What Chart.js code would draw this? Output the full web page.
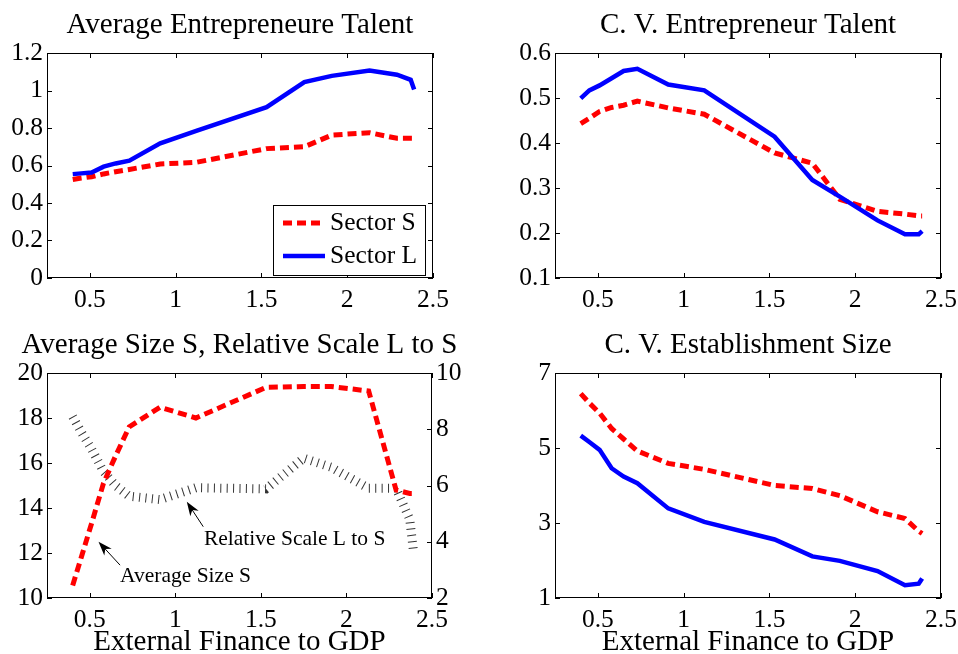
<!DOCTYPE html>
<html>
<head>
<meta charset="utf-8">
<script src="https://cdn.jsdelivr.net/npm/chart.js@4.4.0/dist/chart.umd.min.js"></script>
<style>
  html, body { margin: 0; padding: 0; background: #fff; overflow: hidden; }
  .panel { position: absolute; }
</style>
</head>
<body>
<div class="panel" style="left:0;top:0;width:480px;height:320px"><canvas id="talentChart"></canvas></div>
<div class="panel" style="left:479px;top:0;width:538px;height:320px"><canvas id="cvTalentChart"></canvas></div>
<div class="panel" style="left:0;top:320px;width:479px;height:334px"><canvas id="sizeChart"></canvas></div>
<div class="panel" style="left:479px;top:320px;width:538px;height:334px"><canvas id="cvSizeChart"></canvas></div>
<script>
// abscisse commune : financement externe / PIB
const financeGDP = [0.40, 0.45, 0.51, 0.58, 0.65, 0.73, 0.91, 1.12, 1.53, 1.75, 1.91, 2.13, 2.29, 2.37, 2.39];
const xTicks = [0.5, 1, 1.5, 2, 2.5];

// Average Entrepreneure Talent
const talentS = [0.525, 0.533, 0.54, 0.555, 0.567, 0.579, 0.608, 0.617, 0.69, 0.70, 0.762, 0.775, 0.745, 0.745, 0.745];
const talentL = [0.554, 0.558, 0.563, 0.594, 0.611, 0.626, 0.718, 0.785, 0.911, 1.045, 1.078, 1.107, 1.084, 1.057, 1.005];
const talentTicks = [0, 0.2, 0.4, 0.6, 0.8, 1, 1.2];

// C. V. Entrepreneur Talent
const cvTalentS = [0.443, 0.455, 0.47, 0.479, 0.484, 0.493, 0.478, 0.464, 0.378, 0.355, 0.275, 0.248, 0.242, 0.238, 0.238];
const cvTalentL = [0.499, 0.517, 0.528, 0.544, 0.56, 0.565, 0.530, 0.517, 0.414, 0.318, 0.281, 0.228, 0.197, 0.197, 0.204];
const cvTalentTicks = [0.1, 0.2, 0.3, 0.4, 0.5, 0.6];

// Average Size S (gauche), Relative Scale L to S (droite)
const avgSizeS = [10.56, 11.8, 13.3, 15.1, 16.3, 17.6, 18.48, 18.0, 19.36, 19.4, 19.4, 19.2, 14.8, 14.65, 14.65];
const relScaleLS = [8.45, 7.9, 7.3, 6.5, 6.0, 5.62, 5.5, 5.92, 5.88, 6.97, 6.65, 5.9, 5.9, 4.8, 3.75];
const sizeTicks = [10, 12, 14, 16, 18, 20];
const scaleTicks = [2, 4, 6, 8, 10];

// C. V. Establishment Size
const cvSizeS = [6.45, 6.2, 5.93, 5.52, 5.24, 4.92, 4.59, 4.43, 4.0, 3.92, 3.73, 3.30, 3.12, 2.78, 2.72];
const cvSizeL = [5.33, 5.16, 4.95, 4.46, 4.24, 4.06, 3.39, 3.03, 2.56, 2.11, 1.99, 1.72, 1.34, 1.38, 1.52];
const cvSizeTicks = [1, 3, 5, 7];

const serif = "'Liberation Serif', 'Times New Roman', serif";
Chart.defaults.font.family = serif;
Chart.defaults.color = '#000';

const tickFont = { size: 25.5, family: serif };
const pts = ys => financeGDP.map((x, i) => ({ x: x, y: ys[i] }));

function redLine(ys) {
    return { label: 'Sector S', data: pts(ys), borderColor: '#ff0000', borderWidth: 5, borderDash: [9, 5], pointRadius: 0, tension: 0, fill: false, order: 1 };
}
function blueLine(ys) {
    return { label: 'Sector L', data: pts(ys), borderColor: '#0000ff', borderWidth: 4.5, pointRadius: 0, tension: 0, fill: false, order: 0 };
}

function xScale(withTitle) {
    return {
        type: 'linear', min: 0.25, max: 2.5,
        afterBuildTicks: s => { s.ticks = xTicks.map(v => ({ value: v })); },
        afterFit: s => { s.height = withTitle ? 56 : 42; },
        grid: { display: false, drawTicks: false },
        border: { display: false },
        ticks: { font: tickFont, color: '#000', padding: 7, maxRotation: 0, autoSkip: false, callback: v => String(v) },
        title: withTitle ? {
            display: true, text: 'External Finance to GDP', color: '#000',
            font: { size: 29, lineHeight: 1, family: serif }, padding: { top: 0, bottom: -3 }
        } : { display: false }
    };
}

function yScale(min, max, ticks, width, position) {
    return {
        type: 'linear', position: position || 'left', min: min, max: max,
        afterBuildTicks: s => { s.ticks = ticks.map(v => ({ value: v })); },
        afterFit: s => { s.width = width; },
        grid: { display: false, drawTicks: false },
        border: { display: false },
        ticks: { font: tickFont, color: '#000', padding: 4, autoSkip: false, callback: v => String(v) }
    };
}

// axe vide à droite pour que le titre soit centré sur la zone du graphique
function spacer(width) {
    return {
        type: 'linear', position: 'right',
        afterFit: s => { s.width = width; },
        grid: { display: false, drawTicks: false },
        border: { display: false },
        ticks: { display: false }
    };
}

function titleOpt(text) {
    return { display: true, text: text, color: '#000', font: { size: 29, lineHeight: 1, weight: 'normal', family: serif }, padding: { top: 11, bottom: 13 } };
}

// cadre façon MATLAB avec graduations vers l'intérieur
const boxPlugin = {
    id: 'matlabBox',
    afterDraw(chart) {
        const { ctx, chartArea: a, scales } = chart;
        ctx.save();
        ctx.strokeStyle = '#000';
        ctx.lineWidth = 1;
        ctx.strokeRect(a.left + 0.5, a.top + 0.5, a.right - a.left - 1, a.bottom - a.top - 1);
        ctx.beginPath();
        scales.x.ticks.forEach(t => {
            const px = Math.round(scales.x.getPixelForValue(t.value)) + 0.5;
            ctx.moveTo(px, a.bottom); ctx.lineTo(px, a.bottom - 5);
            ctx.moveTo(px, a.top); ctx.lineTo(px, a.top + 5);
        });
        const yl = scales.y, yr = scales.y1 || scales.y;
        yl.ticks.forEach(t => {
            const py = Math.round(yl.getPixelForValue(t.value)) + 0.5;
            ctx.moveTo(a.left, py); ctx.lineTo(a.left + 5, py);
        });
        yr.ticks.forEach(t => {
            const py = Math.round(yr.getPixelForValue(t.value)) + 0.5;
            ctx.moveTo(a.right, py); ctx.lineTo(a.right - 5, py);
        });
        ctx.stroke();
        ctx.restore();
    }
};

// légende dans le coin du premier graphique
const legendBox = { left: 273, top: 205, right: 425, bottom: 275 };
const legendPlugin = {
    id: 'insideLegend',
    afterDraw(chart) {
        const ctx = chart.ctx;
        const b = legendBox;
        ctx.save();
        ctx.fillStyle = '#fff';
        ctx.fillRect(b.left, b.top, b.right - b.left, b.bottom - b.top);
        ctx.strokeStyle = '#000';
        ctx.lineWidth = 1;
        ctx.strokeRect(b.left + 0.5, b.top + 0.5, b.right - b.left, b.bottom - b.top);
        chart.data.datasets.slice().sort((p, q) => q.order - p.order).forEach((ds, i) => {
            const y = b.top + 18 + i * 33;
            ctx.beginPath();
            ctx.strokeStyle = ds.borderColor;
            ctx.lineWidth = ds.borderWidth;
            ctx.setLineDash(ds.borderDash || []);
            ctx.moveTo(b.left + 10, y);
            ctx.lineTo(b.left + 52, y);
            ctx.stroke();
            ctx.setLineDash([]);
            ctx.fillStyle = '#000';
            ctx.font = '25.5px ' + serif;
            ctx.textBaseline = 'middle';
            ctx.fillText(ds.label, b.left + 57, y);
        });
        ctx.restore();
    }
};

// flèches et textes du graphique en bas à gauche
const notes = [
    { text: 'Relative Scale L to S', at: [1.167, 12.6], tail: [1.163, 13.17], tip: [1.067, 14.28] },
    { text: 'Average Size S', at: [0.677, 10.95], tail: [0.677, 11.46], tip: [0.551, 12.5] }
];
const notesPlugin = {
    id: 'arrowNotes',
    afterDatasetsDraw(chart) {
        const { ctx, scales } = chart;
        const px = p => [scales.x.getPixelForValue(p[0]), scales.y.getPixelForValue(p[1])];
        ctx.save();
        ctx.fillStyle = '#000';
        ctx.strokeStyle = '#000';
        ctx.lineWidth = 1;
        ctx.font = '21.5px ' + serif;
        ctx.textBaseline = 'middle';
        notes.forEach(n => {
            const [tx, ty] = px(n.at);
            ctx.fillText(n.text, tx, ty);
            const [x0, y0] = px(n.tail);
            const [x1, y1] = px(n.tip);
            const ang = Math.atan2(y1 - y0, x1 - x0);
            ctx.beginPath();
            ctx.moveTo(x0, y0);
            ctx.lineTo(x1 - 8 * Math.cos(ang), y1 - 8 * Math.sin(ang));
            ctx.stroke();
            ctx.beginPath();
            ctx.moveTo(x1, y1);
            ctx.lineTo(x1 - 14 * Math.cos(ang) + 5 * Math.sin(ang), y1 - 14 * Math.sin(ang) - 5 * Math.cos(ang));
            ctx.lineTo(x1 - 10 * Math.cos(ang), y1 - 10 * Math.sin(ang));
            ctx.lineTo(x1 - 14 * Math.cos(ang) - 5 * Math.sin(ang), y1 - 14 * Math.sin(ang) + 5 * Math.cos(ang));
            ctx.closePath();
            ctx.fill();
        });
        ctx.restore();
    }
};

const baseOptions = (title, scales) => ({
    responsive: true,
    maintainAspectRatio: false,
    animation: false,
    layout: { padding: 0 },
    plugins: { legend: { display: false }, tooltip: { enabled: false }, title: titleOpt(title) },
    scales: scales
});

new Chart(document.getElementById('talentChart'), {
    type: 'line',
    data: { datasets: [redLine(talentS), blueLine(talentL)] },
    options: baseOptions('Average Entrepreneure Talent', { x: xScale(false), y: yScale(0, 1.2, talentTicks, 47), yR: spacer(47) }),
    plugins: [boxPlugin, legendPlugin]
});

new Chart(document.getElementById('cvTalentChart'), {
    type: 'line',
    data: { datasets: [redLine(cvTalentS), blueLine(cvTalentL)] },
    options: baseOptions('C. V. Entrepreneur Talent', { x: xScale(false), y: yScale(0.1, 0.6, cvTalentTicks, 76), yR: spacer(76) }),
    plugins: [boxPlugin]
});

new Chart(document.getElementById('sizeChart'), {
    type: 'line',
    data: {
        datasets: [
            { label: 'Average Size S', data: pts(avgSizeS), yAxisID: 'y', borderColor: '#ff0000', borderWidth: 5, borderDash: [9, 5], pointRadius: 0, tension: 0, order: 0 },
            { label: 'Relative Scale L to S', data: pts(relScaleLS), yAxisID: 'y1', borderColor: '#333', borderWidth: 9, borderDash: [1, 5.4], pointRadius: 0, tension: 0, order: 1 }
        ]
    },
    options: baseOptions('Average Size S, Relative Scale L to S', {
        x: xScale(true),
        y: yScale(10, 20, sizeTicks, 47),
        y1: yScale(2, 10, scaleTicks, 47, 'right')
    }),
    plugins: [boxPlugin, notesPlugin]
});

new Chart(document.getElementById('cvSizeChart'), {
    type: 'line',
    data: { datasets: [redLine(cvSizeS), blueLine(cvSizeL)] },
    options: baseOptions('C. V. Establishment Size', { x: xScale(true), y: yScale(1, 7, cvSizeTicks, 76), yR: spacer(76) }),
    plugins: [boxPlugin]
});
</script>
</body>
</html>
